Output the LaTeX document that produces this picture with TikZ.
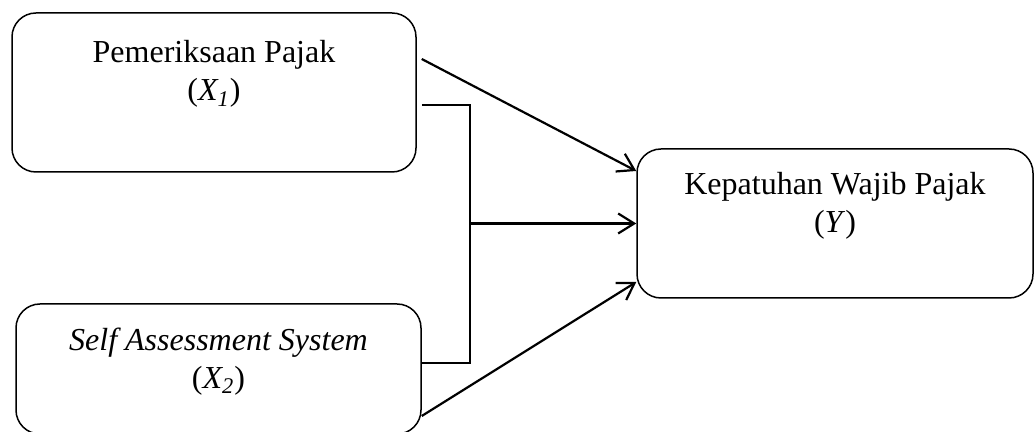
\documentclass[tikz,border=0pt]{standalone}
\usepackage{fontspec}
\setmainfont{Liberation Serif}
\usetikzlibrary{
  arrows.meta,
  positioning
}

\begin{document}
\begin{tikzpicture}[
  x=1pt, y=1pt,
  box/.style={rectangle, rounded corners=12pt, draw=black, line width=0.75pt, inner sep=0pt},
  lbl/.style={align=center, inner sep=0pt, font=\fontsize{16}{19}\selectfont},
  arr/.style={-{Straight Barb[length=8pt, width=10pt]}, line width=1.1pt},
  link/.style={line width=1.1pt},
]
\useasboundingbox (0,0) rectangle (517.5,-216);

% Kotak variabel
\node[box, minimum width=202pt, minimum height=79.5pt] (x1) at (107,-46.25) {};
\node[box, minimum width=202.5pt, minimum height=65pt] (x2) at (109.25,-184.5) {};
\node[box, minimum width=198pt, minimum height=74.5pt] (y) at (417.5,-111.75) {};

% Teks di dalam kotak
\node[lbl, below=14pt of x1.north] (t1) {Pemeriksaan Pajak\\(\textit{X\textsubscript{1}})};
\node[lbl, below=12pt of x2.north] (t2) {\textit{Self Assessment System}\\(\textit{X\textsubscript{2}})};
\node[lbl, below=12pt of y.north] (ty) {Kepatuhan Wajib Pajak\\(\textit{Y})};

% Garis gabungan X1 dan X2
\coordinate (a1) at ([xshift=2.5pt, yshift=-6.25pt]x1.east);
\coordinate (a2) at ([yshift=3pt]x2.east);
\coordinate (bus) at ([xshift=24pt]a1);
\draw[link] (a1) -- (bus) |- (a2);
\draw[arr] (bus |- y.west) -- (y.west);

% Pengaruh parsial
\draw[arr] ([xshift=2.5pt, yshift=16.75pt]x1.east) -- ([yshift=26.25pt]y.west);
\draw[arr] ([yshift=-23.5pt]x2.east) -- ([yshift=-29.25pt]y.west);

\end{tikzpicture}
\end{document}
